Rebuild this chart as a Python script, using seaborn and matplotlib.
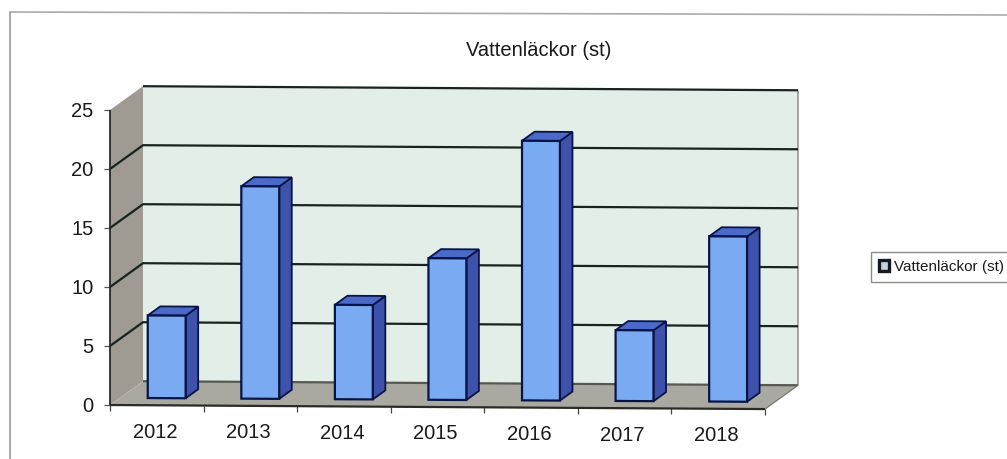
import numpy as np
import matplotlib
matplotlib.use("Agg")
import matplotlib.pyplot as plt
import seaborn as sns
from matplotlib.lines import Line2D
from matplotlib.patches import Polygon
from matplotlib.transforms import Affine2D, IdentityTransform

years = ["2012", "2013", "2014", "2015", "2016", "2017", "2018"]
leaks = [7, 18, 8, 12, 22, 6, 14]
y_ticks = [0, 5, 10, 15, 20, 25]
title = "Vattenläckor (st)"

W, H = 1007, 459
TILT = 0.0062
DEPTH = (33, 24)      # px from front plane to back wall
BAR_D0, BAR_D1 = 0.30, 0.68
EDGE = "#081445"

sns.set_theme(style="white")
plt.rcParams['font.family'] = ['Liberation Sans', 'DejaVu Sans']

fig = plt.figure(figsize=(W / 100, H / 100), dpi=100, facecolor="white")
ax = fig.add_axes([110 / W, (H - 405) / H, 655 / W, 295 / H])
ax.patch.set_visible(False)

sns.barplot(x=years, y=leaks, color="#7aaaf2", saturation=1, width=0.405,
            edgecolor=EDGE, linewidth=1.6, ax=ax)
bars = list(ax.patches)
ax.set_xlim(-0.5, 6.5)
ax.set_ylim(0, 25)
ax.set_yticks(y_ticks)
ax.tick_params(axis="both", length=0, labelsize=14.5, labelcolor="#1a1a1a")
ax.tick_params(axis="x", pad=12.5)
ax.tick_params(axis="y", pad=12)
for s in ax.spines.values():
    s.set_visible(False)

# scanned page is slightly rotated
tilt = Affine2D(np.array([[1, 0, 0], [-TILT, 1, TILT * 110], [0, 0, 1]]))


def pt(x, y, d=0.0):
    px = ax.transData.transform((x, y)) + np.array(DEPTH) * d
    return tilt.transform(px)


def poly(points, color, z, edge="none", lw=0):
    ax.add_patch(Polygon(points, closed=True, facecolor=color, edgecolor=edge, linewidth=lw,
                         transform=IdentityTransform(), clip_on=False, zorder=z))


def line(points, color="#17231f", lw=1.6, z=1.5):
    xs, ys = zip(*points)
    ax.add_line(Line2D(xs, ys, color=color, linewidth=lw, transform=IdentityTransform(),
                       clip_on=False, zorder=z, solid_capstyle="butt"))


x0, x1 = -0.5, 6.5
top = y_ticks[-1]

# walls and floor
poly([pt(x0, 0, 1), pt(x1, 0, 1), pt(x1, top, 1), pt(x0, top, 1)], "#e4eee9", 0.5)
poly([pt(x0, 0), pt(x0, 0, 1), pt(x0, top, 1), pt(x0, top)], "#9f9a92", 0.6)
poly([pt(x0, 0), pt(x1, 0), pt(x1, 0, 1), pt(x0, 0, 1)], "#aaa9a1", 0.7)

# grid
for v in y_ticks[1:]:
    if v == top:
        line([pt(x0, v, 1), pt(x1, v, 1)])
    else:
        line([pt(x0, v), pt(x0, v, 1), pt(x1, v, 1)])
line([pt(x0, 0, 1), pt(x1, 0, 1)], color="#55594f", z=1.4)
line([pt(x1, 0), pt(x1, 0, 1), pt(x1, top, 1)], color="#77786f", lw=0.9, z=1.4)

# axes and tick marks
line([pt(x0, 0), pt(x1, 0)], color="#2a2a26", lw=1.6, z=1.6)
line([pt(x0, 0), pt(x0, top)], color="#2a2a26", lw=1.3, z=1.6)
for v in y_ticks:
    a = pt(x0, v)
    line([a, a + np.array([-6, 0])], color="#555555", lw=0.9)
for i in range(len(years) + 1):
    a = pt(x0 + i, 0)
    line([a, a + np.array([0, -6])], color="#444444", lw=0.9)

# 3d bars from the seaborn patches
shift = Affine2D().translate(DEPTH[0] * BAR_D0, DEPTH[1] * BAR_D0)
for k, bar in enumerate(bars):
    bar.set_transform(ax.transData + shift + tilt)
    bar.set_clip_on(False)
    bar.set_zorder(3 + k * 0.1)
    bl, br = bar.get_x(), bar.get_x() + bar.get_width()
    h = bar.get_height()
    poly([pt(br, 0, BAR_D0), pt(br, 0, BAR_D1), pt(br, h, BAR_D1), pt(br, h, BAR_D0)],
         "#3f52ab", 2.9 + k * 0.1, EDGE, 1.3)
    poly([pt(bl, h, BAR_D0), pt(br, h, BAR_D0), pt(br, h, BAR_D1), pt(bl, h, BAR_D1)],
         "#4a69c9", 2.9 + k * 0.1, EDGE, 1.3)

# tick labels follow the page tilt
nudge = Affine2D().translate(-2, 0)
for lab in ax.get_xticklabels():
    lab.set_transform(lab.get_transform() + nudge + tilt)
for lab in ax.get_yticklabels():
    lab.set_transform(lab.get_transform() + tilt)

fig.suptitle(title, x=539 / W, y=1 - 50 / H, va="center", ha="center", fontsize=14.5, color="#1a1a1a")

leg = ax.legend(handles=[bars[0]], labels=[title], loc="center left",
                bbox_to_anchor=(871, H - 267), bbox_transform=IdentityTransform(),
                fontsize=11, frameon=True, fancybox=False, edgecolor="#8c8c8c", framealpha=1,
                borderaxespad=0, borderpad=0.5, handlelength=0.7, handleheight=0.7,
                handletextpad=0.3, labelcolor="#1a1a1a")
leg.get_frame().set_linewidth(1.0)
leg.legend_handles[0].set_facecolor("#c8d0dc")
leg.legend_handles[0].set_edgecolor("#141a22")
leg.legend_handles[0].set_linewidth(2.4)

# page border
fig.add_artist(Line2D([10 / W, 10 / W], [0, 1 - 12 / H], color="#9a9a9a", linewidth=1.2))
fig.add_artist(Line2D([10 / W, 1], [1 - 12 / H, 1 - 15 / H], color="#aaaaaa", linewidth=1.2))

fig.savefig("out.png", dpi=100)
